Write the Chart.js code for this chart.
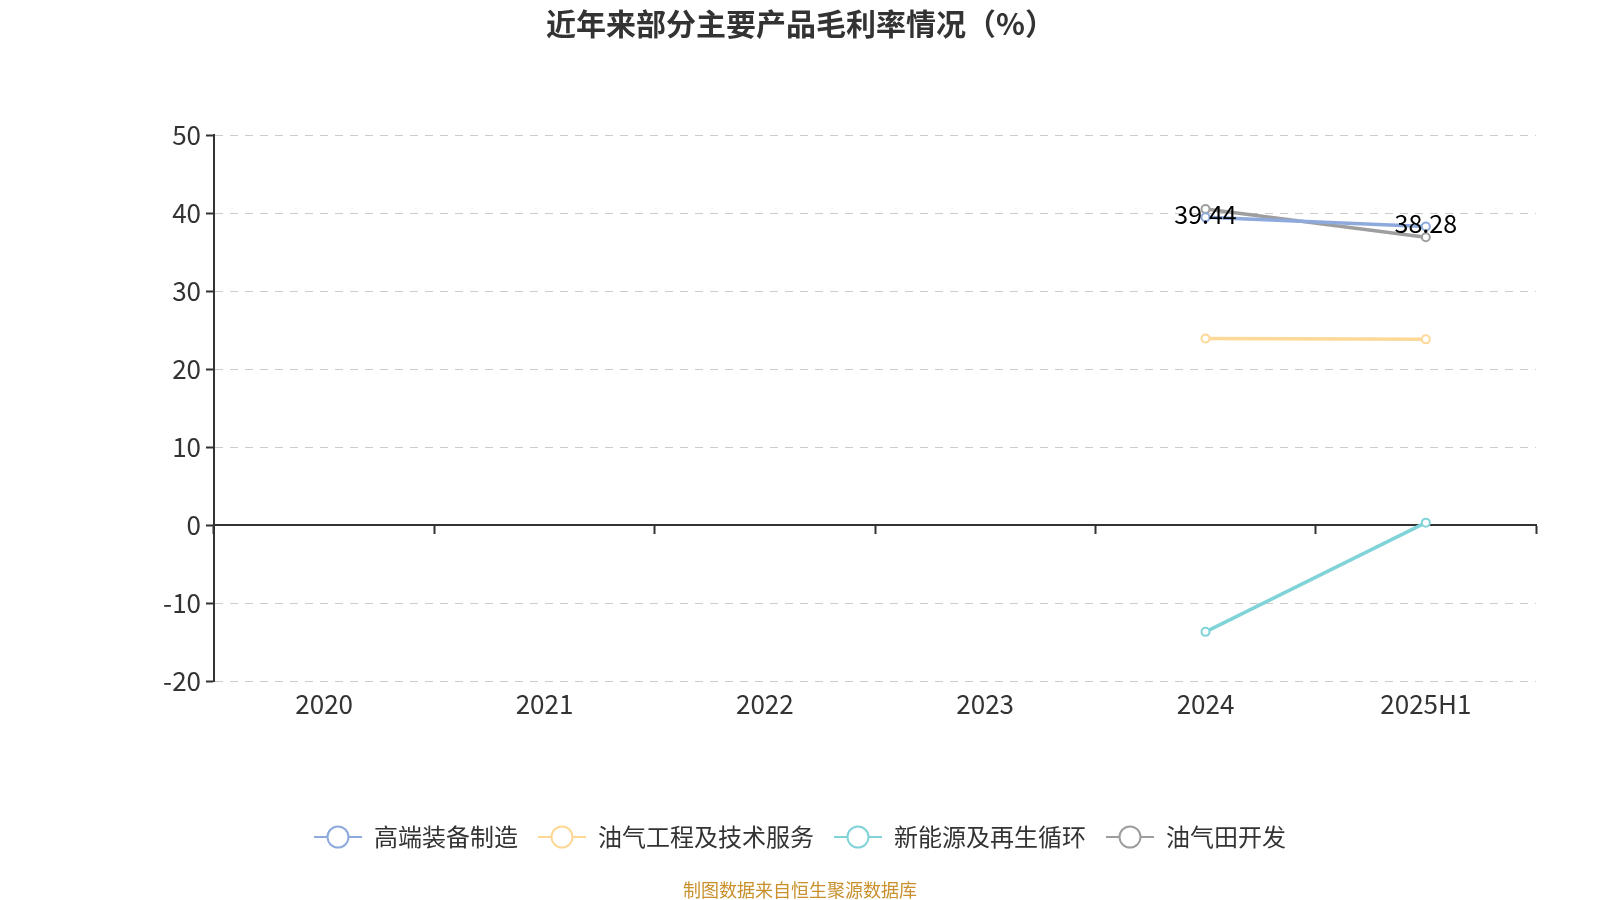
<!DOCTYPE html>
<html>
<head>
<meta charset="utf-8">
<script src="https://cdn.jsdelivr.net/npm/chart.js@4"></script>
<style>
  html, body { margin: 0; padding: 0; background: #fff; }
  #wrap { position: relative; width: 1600px; height: 900px; }
  #title { position: absolute; left: 546px; top: 6px; font: bold 30px "Noto Sans CJK SC", sans-serif; color: #333; line-height: 33px; white-space: nowrap; }
  #source { position: absolute; left: 0; width: 1600px; top: 879px; text-align: center; font: 18px "Noto Sans CJK SC", sans-serif; color: #c9902c; line-height: 20px; }
</style>
</head>
<body>
<div id="wrap">
  <canvas id="c" width="1600" height="900"></canvas>
  <div id="title">近年来部分主要产品毛利率情况（%）</div>
  <div id="source">制图数据来自恒生聚源数据库</div>
</div>
<script>
const categories = ['2020', '2021', '2022', '2023', '2024', '2025H1'];
const seriesNames = ['高端装备制造', '油气工程及技术服务', '新能源及再生循环', '油气田开发'];
const highEndEquipment = [null, null, null, null, 39.44, 38.28];
const oilGasEngineering = [null, null, null, null, 23.9, 23.8];
const newEnergyRecycling = [null, null, null, null, -13.7, 0.3];
const oilGasFieldDev = [null, null, null, null, 40.5, 36.9];
const yTicks = { min: -20, max: 50, step: 10 };

const colors = ['#8eaadd', '#fdd897', '#80d4d9', '#9e9e9e'];
const FONT = '"Noto Sans CJK SC", "Noto Sans", sans-serif';

function makeIcon(color) {
  const cv = document.createElement('canvas');
  cv.width = 48; cv.height = 26;
  const g = cv.getContext('2d');
  g.strokeStyle = color; g.lineWidth = 2;
  g.beginPath(); g.moveTo(0, 13); g.lineTo(48, 13); g.stroke();
  g.beginPath(); g.arc(24, 13, 10.5, 0, Math.PI * 2);
  g.fillStyle = '#fff'; g.fill(); g.stroke();
  return cv;
}
const icons = colors.map(makeIcon);

const seriesData = [highEndEquipment, oilGasEngineering, newEnergyRecycling, oilGasFieldDev];
const datasets = seriesData.map((d, i) => ({
  label: seriesNames[i],
  data: d,
  xAxisID: 'x',
  yAxisID: 'y',
  borderColor: colors[i],
  backgroundColor: colors[i],
  borderWidth: 3.5,
  pointRadius: 4,
  pointHoverRadius: 4,
  pointBorderWidth: 2,
  pointBackgroundColor: '#fff',
  pointBorderColor: colors[i],
  spanGaps: false,
  tension: 0
}));

const valueLabels = {
  id: 'valueLabels',
  afterDatasetsDraw(chart) {
    const ctx = chart.ctx;
    const meta = chart.getDatasetMeta(0);
    ctx.save();
    ctx.font = '25px ' + FONT;
    ctx.fillStyle = '#000';
    ctx.textAlign = 'center';
    ctx.textBaseline = 'middle';
    meta.data.forEach((pt, i) => {
      const v = highEndEquipment[i];
      if (v === null || v === undefined) return;
      ctx.fillText(v.toFixed(2), pt.x, pt.y - 3);
    });
    ctx.restore();
  }
};

new Chart(document.getElementById('c'), {
  type: 'line',
  data: { labels: categories, datasets },
  plugins: [valueLabels],
  options: {
    responsive: false,
    animation: false,
    devicePixelRatio: 1,
    layout: { padding: { left: 64, right: 64, top: 135, bottom: 41 } },
    plugins: {
      title: { display: false },
      tooltip: { enabled: false },
      legend: {
        position: 'bottom',
        align: 'center',
        labels: {
          usePointStyle: true,
          pointStyleWidth: 48,
          padding: 20,
          color: '#333',
          font: { family: FONT, size: 24 },
          generateLabels(chart) {
            const items = Chart.defaults.plugins.legend.labels.generateLabels(chart);
            return items.map(it => Object.assign(it, { pointStyle: icons[it.datasetIndex] }));
          }
        }
      }
    },
    scales: {
      x: {
        type: 'category',
        position: { y: 0 },
        offset: true,
        ticks: { display: false },
        grid: { display: true, offset: true, drawOnChartArea: false, drawTicks: true, tickLength: 8, tickColor: '#333', tickWidth: 2, color: '#333' },
        border: { display: true, color: '#333', width: 2 }
      },
      x2: {
        type: 'category',
        position: 'bottom',
        offset: true,
        grid: { display: false },
        border: { display: false },
        ticks: { color: '#333', font: { family: FONT, size: 26 }, padding: 0, maxRotation: 0 },
        afterFit(scale) { scale.height = 124; }
      },
      y: {
        type: 'linear',
        position: 'left',
        min: yTicks.min,
        max: yTicks.max,
        ticks: { stepSize: yTicks.step, color: '#333', font: { family: FONT, size: 26 }, padding: 5 },
        grid: {
          color: (c) => (c.tick && c.tick.value === 0) ? 'rgba(0,0,0,0)' : '#cccccc',
          lineWidth: 1,
          drawTicks: true,
          tickLength: 8,
          tickColor: '#333',
          tickWidth: 2
        },
        border: { display: true, color: '#333', width: 2, dash: [8, 7] },
        afterFit(scale) { scale.width = 150; }
      }
    }
  }
});
</script>
</body>
</html>
